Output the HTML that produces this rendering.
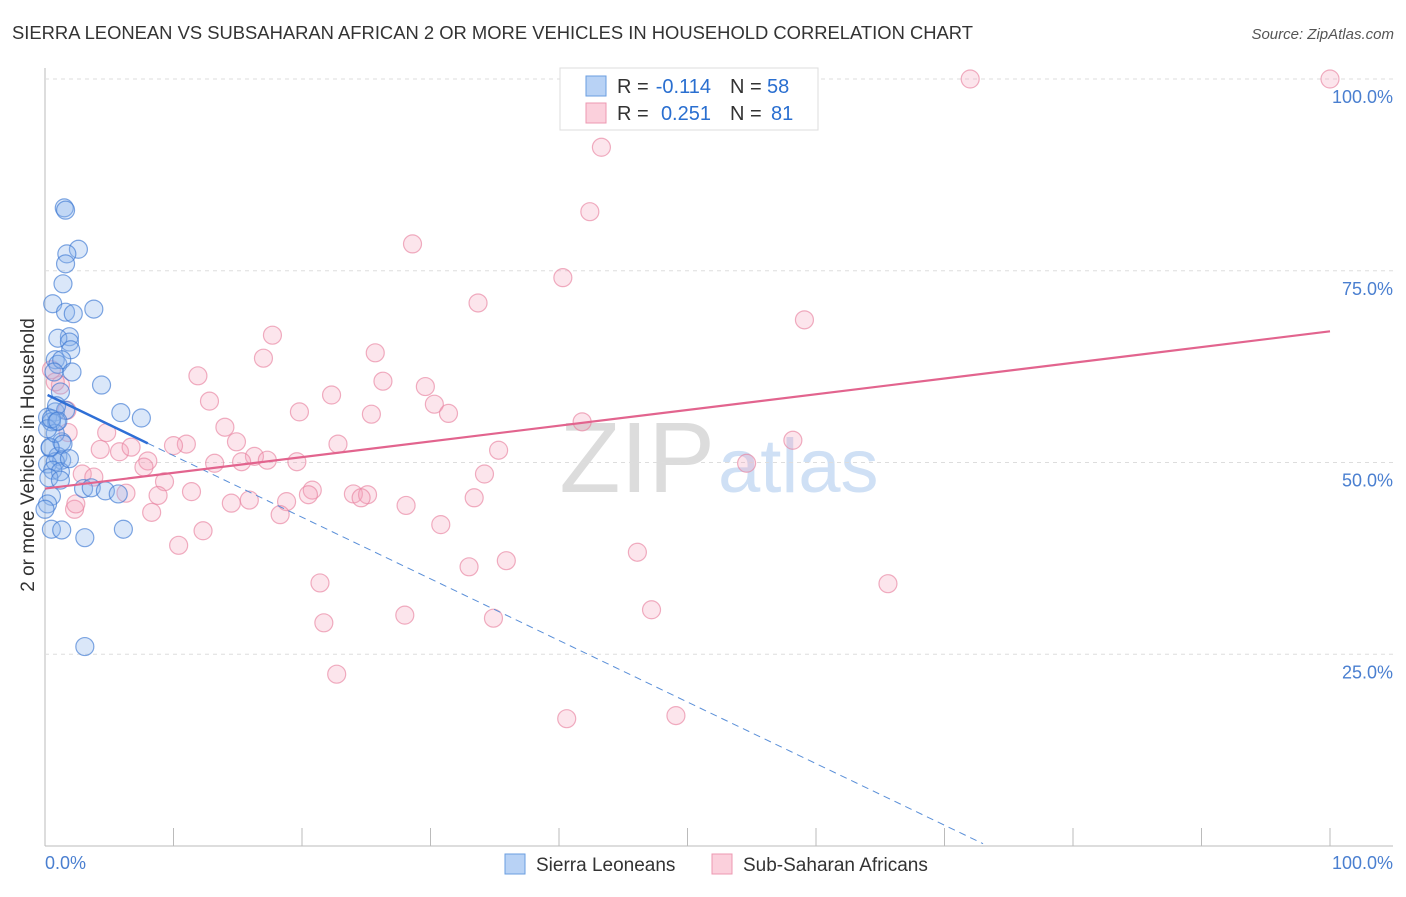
<!DOCTYPE html>
<html><head><meta charset="utf-8"><style>
body{margin:0;background:#fff;font-family:"Liberation Sans",sans-serif;}
svg text{font-family:"Liberation Sans",sans-serif;}
</style></head><body>
<svg id="c" width="1406" height="892">
<text x="12" y="39" font-size="18" fill="#333" textLength="961" lengthAdjust="spacingAndGlyphs">SIERRA LEONEAN VS SUBSAHARAN AFRICAN 2 OR MORE VEHICLES IN HOUSEHOLD CORRELATION CHART</text>
<text x="1394" y="39" font-size="15" fill="#555" text-anchor="end" font-style="italic">Source: ZipAtlas.com</text>
<text x="715" y="492" font-size="100" fill="#dcdcdc" text-anchor="end" font-family="Liberation Serif">ZIP</text>
<text x="718" y="492" font-size="76" fill="#cfe0f5">atlas</text>
<g id="grid"></g>
<g id="pts"></g>
<g id="lines"></g>
<text transform="translate(34,455) rotate(-90)" font-size="19" fill="#333" text-anchor="middle">2 or more Vehicles in Household</text>
<text x="45" y="869" font-size="18" fill="#4a7fd0">0.0%</text>
<text x="1393" y="869" font-size="18" fill="#4a7fd0" text-anchor="end">100.0%</text>
<g>
<rect x="560" y="68" width="258" height="62" fill="#fff" stroke="#ddd"/>
<rect x="586" y="76" width="20" height="20" fill="#b8d2f5" stroke="#6a9ee0"/>
<rect x="586" y="103" width="20" height="20" fill="#fbd0dc" stroke="#ec98b2"/>
<text x="617" y="93" font-size="20" fill="#333">R =</text>
<text x="711" y="93" font-size="20" fill="#2a6fd0" text-anchor="end">-0.114</text>
<text x="730" y="93" font-size="20" fill="#333">N =</text>
<text x="767" y="93" font-size="20" fill="#2a6fd0">58</text>
<text x="617" y="120" font-size="20" fill="#333">R =</text>
<text x="711" y="120" font-size="20" fill="#2a6fd0" text-anchor="end">0.251</text>
<text x="730" y="120" font-size="20" fill="#333">N =</text>
<text x="771" y="120" font-size="20" fill="#2a6fd0">81</text>
</g>
<g>
<rect x="505" y="854" width="20" height="20" fill="#b8d2f5" stroke="#6a9ee0"/>
<text x="536" y="871" font-size="19" fill="#333">Sierra Leoneans</text>
<rect x="712" y="854" width="20" height="20" fill="#fbd0dc" stroke="#ec98b2"/>
<text x="743" y="871" font-size="19" fill="#333">Sub-Saharan Africans</text>
</g>
</svg>
<script>
const yTicks=[25,50,75,100];
const blueX=[1.5,1.6,2.6,1.7,1.6,1.4,0.6,3.8,1.6,2.2,1.9,1.0,1.9,2.0,0.8,1.0,1.3,0.7,2.1,4.4,1.2,5.9,7.5,0.8,1.6,0.2,0.5,0.9,1.3,0.4,1.0,1.3,0.2,0.8,0.6,1.2,0.3,3.0,3.6,4.7,5.7,0.5,0.2,0.0,0.5,1.3,3.1,6.1,3.1,0.4,0.8,1.4,0.2,0.9,0.5,1.0,1.9,1.2];
const blueY=[83.2,82.9,77.8,77.2,75.9,73.3,70.7,70.0,69.6,69.4,66.4,66.2,65.7,64.7,63.4,62.8,63.4,61.8,61.8,60.1,59.2,56.5,55.8,56.6,56.8,55.9,55.3,55.3,52.7,51.9,50.8,50.3,49.8,50.1,49.0,48.8,48.0,46.6,46.7,46.3,45.9,45.6,44.6,43.9,41.3,41.2,40.2,41.3,26.0,52.0,53.8,52.4,54.4,57.4,55.7,55.4,50.5,47.7];
const pinkX=[72,100,43.3,42.4,28.6,40.3,33.7,59.1,17.7,17.0,25.7,11.9,26.3,29.6,22.3,12.8,30.3,31.4,19.8,25.4,41.8,14.0,14.9,11.0,10.0,22.8,35.3,58.2,4.3,5.8,6.7,8.0,16.3,17.3,19.6,13.2,15.3,54.6,7.7,34.2,2.9,9.3,3.8,20.8,11.4,8.8,24.0,25.1,24.6,6.3,33.4,20.5,15.9,14.5,18.8,28.1,8.3,18.3,2.3,30.8,12.3,10.4,46.1,35.9,33.0,21.4,65.6,47.2,28.0,34.9,21.7,22.7,40.6,49.1,1.2,0.5,0.8,1.7,1.8,2.4,4.8];
const pinkY=[100,100,91.1,82.7,78.5,74.1,70.8,68.6,66.6,63.6,64.3,61.3,60.6,59.9,58.8,58.0,57.6,56.4,56.6,56.3,55.3,54.6,52.7,52.4,52.2,52.4,51.6,52.9,51.7,51.4,52.0,50.2,50.8,50.3,50.1,49.9,50.1,49.9,49.4,48.5,48.5,47.5,48.1,46.4,46.2,45.7,45.9,45.8,45.4,46.0,45.4,45.8,45.1,44.7,44.9,44.4,43.5,43.2,43.9,41.9,41.1,39.2,38.3,37.2,36.4,34.3,34.2,30.8,30.1,29.7,29.1,22.4,16.6,17.0,60.1,62.1,60.5,56.8,53.9,44.6,53.9];
const svg=document.getElementById('c');
const NS='http://www.w3.org/2000/svg';
const xs=v=>45+v*12.85, ys=v=>846-v*7.67;
function mk(t,a,p){const e=document.createElementNS(NS,t);for(const k in a)e.setAttribute(k,a[k]);p.appendChild(e);return e;}
const g=document.getElementById('grid');
const ax=mk('line',{x1:45,y1:68,x2:45,y2:846,stroke:'#bbb'},g);


const bx=mk('line',{x1:45,y1:846,x2:1393,y2:846,stroke:'#bbb'},g);


for(let i=1;i<=10;i++){const t=mk('line',{x1:xs(i*10),y1:828,x2:xs(i*10),y2:846,stroke:'#bbb'},g);

}
yTicks.forEach(v=>{const l=mk('line',{x1:45,y1:ys(v),x2:1393,y2:ys(v),stroke:'#ddd','stroke-dasharray':'4,4'},g);


const t=mk('text',{x:1393,y:ys(v)+24,'font-size':18,fill:'#4a7fd0','text-anchor':'end'},g);t.textContent=v.toFixed(1)+'%';

});
const p=document.getElementById('pts');
pinkX.forEach((x,i)=>{const c=mk('circle',{cx:xs(x),cy:ys(pinkY[i]),r:9,fill:'rgba(245,160,185,0.28)',stroke:'rgba(232,130,160,0.65)','stroke-width':1.2},p);

});
blueX.forEach((x,i)=>{const c=mk('circle',{cx:xs(x),cy:ys(blueY[i]),r:9,fill:'rgba(140,180,235,0.32)',stroke:'rgba(60,120,210,0.65)','stroke-width':1.2},p);

});
const L=document.getElementById('lines');
let e=mk('line',{x1:xs(8),y1:ys(52.5),x2:xs(73),y2:ys(0.3),stroke:'#5a8fd8','stroke-width':1,'stroke-dasharray':'7,5'},L);


e=mk('line',{x1:xs(0.2),y1:ys(58.8),x2:xs(8),y2:ys(52.5),stroke:'#2f6fd6','stroke-width':2.5},L);


e=mk('line',{x1:xs(0),y1:ys(46.6),x2:xs(100),y2:ys(67.1),stroke:'#e2648e','stroke-width':2.2},L);


</script>
</body></html>
